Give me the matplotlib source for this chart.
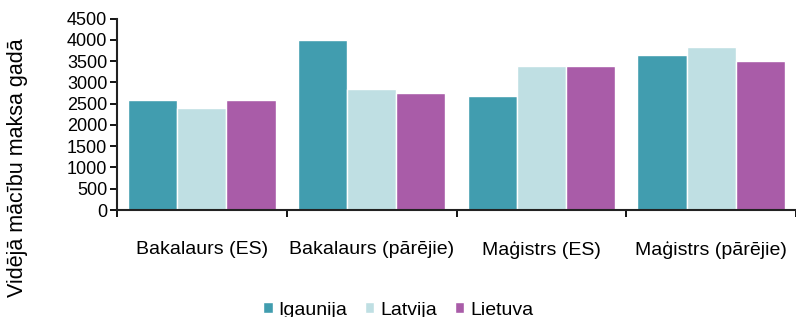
import matplotlib.pyplot as plt
import numpy as np

plt.rcParams['font.family'] = ['Liberation Sans', 'DejaVu Sans']

# data
categories = ['Bakalaurs (ES)', 'Bakalaurs (pārējie)', 'Maģistrs (ES)', 'Maģistrs (pārējie)']
igaunija = [2575, 4000, 2670, 3650]
latvija = [2400, 2840, 3380, 3820]
lietuva = [2575, 2760, 3380, 3510]
series_names = ['Igaunija', 'Latvija', 'Lietuva']
colors = ['#419DAF', '#BFDFE3', '#A95CA8']

fig = plt.figure(figsize=(7.96, 3.17), dpi=100)
ax = fig.add_axes([0.147, 0.3375, 0.853, 0.604])

x = np.arange(len(categories))
w = 0.29
for i, (vals, name, c) in enumerate(zip([igaunija, latvija, lietuva], series_names, colors)):
    ax.bar(x + (i - 1) * w, vals, width=w, color=c, edgecolor='white', linewidth=1, label=name)

ax.set_xlim(-0.5, len(categories) - 0.5)
ax.set_ylim(0, 4500)
ax.set_yticks(np.arange(0, 4501, 500))
ax.tick_params(axis='y', labelsize=13, length=5, width=1.3, direction='out', pad=2)

# boundaries get the tick marks, names sit between them
ax.set_xticks(np.arange(-0.5, len(categories), 1.0))
ax.set_xticklabels([])
ax.tick_params(axis='x', which='major', length=5, width=1.3, direction='out')
ax.set_xticks(x, minor=True)
ax.set_xticklabels(categories, minor=True, fontsize=14)
ax.tick_params(axis='x', which='minor', length=0, pad=22)

for s in ['top', 'right']:
    ax.spines[s].set_visible(False)
for s in ['left', 'bottom']:
    ax.spines[s].set_linewidth(1.5)
    ax.spines[s].set_color('#222222')

fig.text(18 / 796, 0.47, 'Vidējā mācību maksa gadā', rotation=90,
         ha='center', va='center', fontsize=15.5)

fig.legend(loc='center', bbox_to_anchor=(0.5, 0.022), ncol=3, frameon=False,
           fontsize=14, handlelength=0.5, handleheight=0.5, handletextpad=0.3,
           columnspacing=0.9)

fig.savefig('out.png', dpi=100)
